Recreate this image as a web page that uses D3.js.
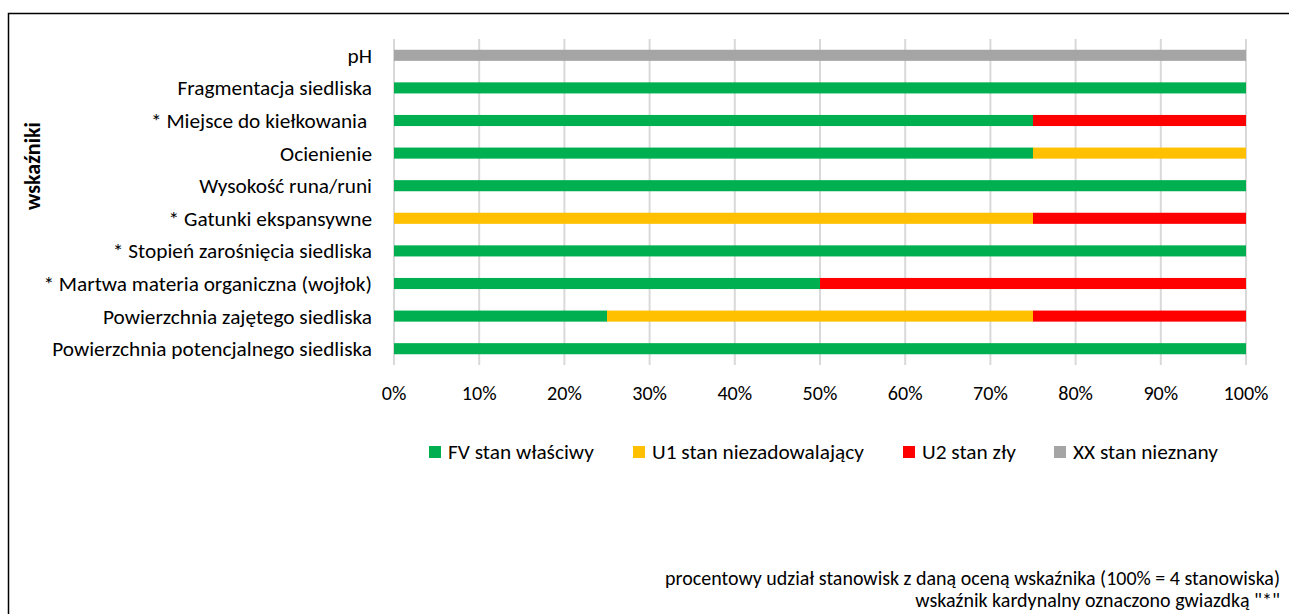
<!DOCTYPE html>
<html><head><meta charset="utf-8">
<script src="https://cdn.jsdelivr.net/npm/d3@7"></script>
<style>body{margin:0;background:#fff}svg{display:block;font-family:Calibri,Carlito,Lato,"Open Sans",sans-serif}</style>
</head><body><svg id="c" width="1289" height="614"></svg>
<script>
const categories = ["pH","Fragmentacja siedliska","* Miejsce do kiełkowania\u00a0","Ocienienie","Wysokość runa/runi","* Gatunki ekspansywne","* Stopień zarośnięcia siedliska","* Martwa materia organiczna (wojłok)","Powierzchnia zajętego siedliska","Powierzchnia potencjalnego siedliska"];
const seriesNames = ["FV stan właściwy","U1 stan niezadowalający","U2 stan zły","XX stan nieznany"];
const seriesColors = ["#00B050","#FFC000","#FF0000","#A5A5A5"];
const FV = [0,100,75,75,100,0,100,50,25,100];
const U1 = [0,0,0,25,0,75,0,0,50,0];
const U2 = [0,0,25,0,0,25,0,50,25,0];
const XX = [100,0,0,0,0,0,0,0,0,0];
const tickValues = [0,10,20,30,40,50,60,70,80,90,100];
const yTitle = "wskaźniki";
const notes = ["procentowy udział stanowisk z daną oceną wskaźnika (100% = 4 stanowiska)","wskaźnik kardynalny oznaczono gwiazdką \"*\""];

const svg = d3.select("#c");
svg.append("rect").attr("x",8.5).attr("y",13.5).attr("width",1300).attr("height",700).attr("fill","none").attr("stroke","#000").attr("stroke-width",1.5);

// fit a group's font size so that a given text reaches a target width
function fit(sel, sampleText, target, bold){
  const t = svg.append("text").attr("font-size",20).attr("font-weight",bold?"bold":"normal").text(sampleText);
  const w = t.node().getComputedTextLength(); t.remove();
  sel.attr("font-size", 20*target/w);
}

const x = d3.scaleLinear().domain([0,100]).range([394,1246]);
const y = d3.scaleBand().domain(categories).range([39,365]).paddingInner(0.66).paddingOuter(0.33);

svg.append("g").selectAll("line").data(tickValues).join("line")
  .attr("x1",d=>x(d)).attr("x2",d=>x(d)).attr("y1",39).attr("y2",365)
  .attr("stroke","#D9D9D9").attr("stroke-width",2);

const rows = categories.map((c,i)=>({cat:c, vals:[FV[i],U1[i],U2[i],XX[i]]}));
const stack = d3.stack().keys([0,1,2,3]).value((d,k)=>d.vals[k])(rows);
svg.append("g").selectAll("g").data(stack).join("g").attr("fill",(d,i)=>seriesColors[i])
  .selectAll("rect").data(d=>d).join("rect")
  .attr("x",d=>x(d[0])).attr("width",d=>x(d[1])-x(d[0]))
  .attr("y",d=>y(d.data.cat)).attr("height",y.bandwidth());

const cl = svg.append("g").selectAll("text").data(categories).join("text")
  .attr("x",372).attr("y",d=>y(d)+y.bandwidth()/2).attr("dy","0.35em")
  .attr("text-anchor","end").attr("fill","#000").text(d=>d);
fit(cl, categories[9], 320);

const tl = svg.append("g").selectAll("text").data(tickValues).join("text")
  .attr("x",d=>x(d)).attr("y",393).attr("dy","0.35em").attr("text-anchor","middle")
  .attr("fill","#000").text(d=>d+"%");
fit(tl, "100%", 45);

const yt = svg.append("text").attr("transform","translate(32,166) rotate(-90)").attr("text-anchor","middle")
  .attr("dy","0.35em").attr("font-weight","bold").text(yTitle);
fit(yt, yTitle, 88, true);

const legX = [429,633,903,1054];
const lg = svg.append("g").selectAll("g").data(seriesNames).join("g")
  .attr("transform",(d,i)=>`translate(${legX[i]},452)`);
lg.append("rect").attr("x",0).attr("y",-6).attr("width",12).attr("height",12).attr("fill",(d,i)=>seriesColors[i]);
const lt = lg.append("text").attr("x",19).attr("y",0).attr("dy","0.35em").text(d=>d);
fit(lt, seriesNames[3], 145);

const nt = svg.append("g").selectAll("text").data(notes).join("text")
  .attr("x",1280).attr("y",(d,i)=>578+i*22).attr("dy","0.35em").attr("text-anchor","end")
  .text(d=>d);
fit(nt, notes[0], 615);
</script></body></html>
